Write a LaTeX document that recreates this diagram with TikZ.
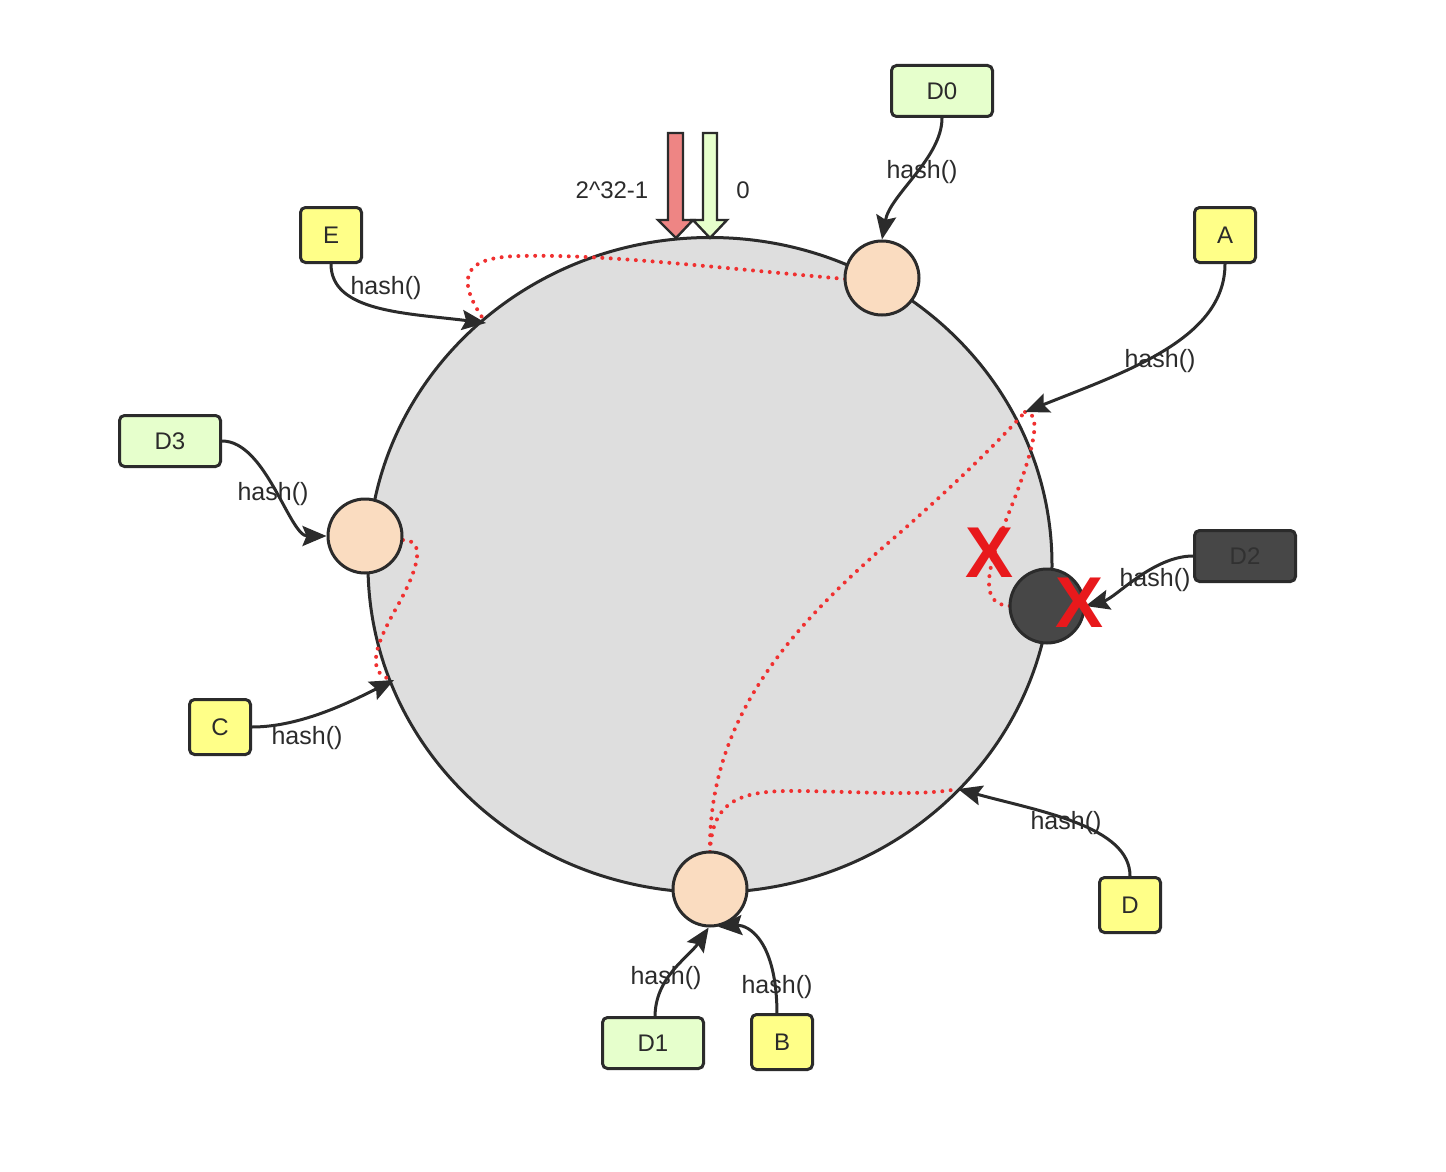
\documentclass[tikz,border=0pt]{standalone}
\usepackage{fontspec}
\setmainfont{Liberation Sans}
\usetikzlibrary{arrows.meta,shapes.geometric}
\definecolor{boxgreen}{HTML}{E6FFCC}
\definecolor{boxyellow}{HTML}{FFFF88}
\definecolor{darkfill}{HTML}{474747}
\definecolor{peach}{HTML}{FADCC0}
\definecolor{ringgray}{HTML}{DEDEDE}
\definecolor{edge}{HTML}{2B2B2B}
\definecolor{redarrow}{HTML}{EE8584}
\definecolor{xred}{HTML}{E8191C}
\definecolor{dotred}{HTML}{F03030}
\begin{document}
\begin{tikzpicture}[x=0.5pt,y=-0.5pt,
  wbox/.style={draw=edge,line width=1.5pt,rounded corners=2.5pt,minimum width=50.5pt,minimum height=25.5pt,inner sep=0pt,text=edge,font=\fontsize{12}{14}\selectfont},
  sbox/.style={wbox,minimum width=30.5pt,minimum height=27.5pt},
  peer/.style={circle,draw=edge,line width=1.5pt,fill=peach,minimum size=37pt,inner sep=0pt},
  hashlbl/.style={font=\fontsize{12.5}{14}\selectfont,text=edge,inner sep=0pt},
  toplbl/.style={font=\fontsize{12}{14}\selectfont,text=edge,inner sep=0pt},
  hasharrow/.style={draw=edge,line width=1.5pt,-{Stealth[length=12pt,width=10pt,inset=2pt]}},
  route/.style={draw=dotred,line width=2pt,line cap=round,dash pattern=on 0pt off 4.2pt},
  xmark/.style={text=xred,font=\fontsize{36}{36}\selectfont\bfseries,inner sep=0pt},
]
\useasboundingbox (0,0) rectangle (1446,1172);

% main ring
\node[ellipse,draw=edge,line width=1.5pt,fill=ringgray,minimum width=342pt,minimum height=327.5pt,inner sep=0pt] (ring) at (710,565) {};

% 0 / 2^32-1 markers
\draw[edge,line width=1.2pt,fill=redarrow,line join=miter] (668,133) -- (683,133) -- (683,220) -- (693,220) -- (676,238) -- (658,220) -- (668,220) -- cycle;
\draw[edge,line width=1.2pt,fill=boxgreen,line join=miter] (703,133) -- (717,133) -- (717,220) -- (727,220) -- (710,238) -- (693,220) -- (703,220) -- cycle;
\node[toplbl] (lmax) at (612,190) {2\textasciicircum32-1};
\node[toplbl] (lzero) at (743,190) {0};

% points on the ring where keys land
\coordinate (pE) at (486,323);
\coordinate (pA) at (1025,412);
\coordinate (pC) at (394,680);
\coordinate (pD) at (958,789);

% node positions (peers)
\coordinate (c0) at (882,278);
\coordinate (c3) at (365,536);
\coordinate (c1) at (710,889);
\coordinate (c2) at (1047,606);

% dotted routes
\draw[route] (845,279) .. controls (700,266) and (600,254) .. (520,256) .. controls (470,257) and (450,272) .. (pE);
\draw[route] (403,540) .. controls (425,540) and (420,565) .. (398,605) .. controls (378,640) and (362,675) .. (pC);
\draw[route] (710,852) .. controls (708,720) and (790,630) .. (880,550) .. controls (950,490) and (1000,440) .. (pA);
\draw[route] (710,852) .. controls (712,800) and (740,790) .. (800,791) .. controls (870,792) and (920,796) .. (pD);
\draw[route] (pA) .. controls (1045,412) and (1030,460) .. (1010,510) .. controls (990,560) and (975,605) .. (1010,606);

% peers on the ring
\node[peer] (n0) at (c0) {};
\node[peer] (n3) at (c3) {};
\node[peer] (n1) at (c1) {};
\node[peer,fill=darkfill] (n2) at (c2) {};

% boxes
\node[wbox,fill=boxgreen] (D0) at (942,91) {D0};
\node[sbox,fill=boxyellow] (E) at (331,235) {E};
\node[sbox,fill=boxyellow] (A) at (1225,235) {A};
\node[wbox,fill=boxgreen] (D3) at (170,441) {D3};
\node[wbox,fill=darkfill,text=edge!80!darkfill] (D2) at (1245,556) {D2};
\node[sbox,fill=boxyellow] (C) at (220,727) {C};
\node[sbox,fill=boxyellow] (D) at (1130,905) {D};
\node[wbox,fill=boxgreen] (D1) at (653,1043) {D1};
\node[sbox,fill=boxyellow] (B) at (782,1042) {B};

% hash arrows
\draw[hasharrow] (D0.south) .. controls +(0,40) and +(8,-45) .. (n0.north);
\draw[hasharrow] (E.south) .. controls +(0,48) and +(-80,-10) .. (pE);
\draw[hasharrow] (A.south) .. controls +(0,75) and +(100,-40) .. (pA);
\draw[hasharrow] (D3.east) .. controls +(44,0) and +(-37,0) .. (n3.west);
\draw[hasharrow] (D2.west) .. controls +(-40,0) and +(30,-8) .. (n2.east);
\draw[hasharrow] (C.east) .. controls +(50,0) and +(-40,20) .. (pC);
\draw[hasharrow] (D.north) .. controls +(0,-50) and +(80,22) .. (pD);
\draw[hasharrow] (655,1017) .. controls +(0,-40) and +(-20,30) .. (n1.-92);
\draw[hasharrow] (777,1015) .. controls +(0,-75) and +(30,-2) .. (n1.-78);

% hash labels
\node[hashlbl] (h0) at (922,172) {hash()};
\node[hashlbl] (hE) at (386,288) {hash()};
\node[hashlbl] (hA) at (1160,361) {hash()};
\node[hashlbl] (h3) at (273,494) {hash()};
\node[hashlbl] (h2) at (1155,580) {hash()};
\node[hashlbl] (hC) at (307,738) {hash()};
\node[hashlbl] (hD) at (1066,823) {hash()};
\node[hashlbl] (h1) at (666,978) {hash()};
\node[hashlbl] (hB) at (777,987) {hash()};

% removed markers
\node[xmark] (x1) at (990,553) {X};
\node[xmark] (x2) at (1080,603) {X};
\end{tikzpicture}
\end{document}
